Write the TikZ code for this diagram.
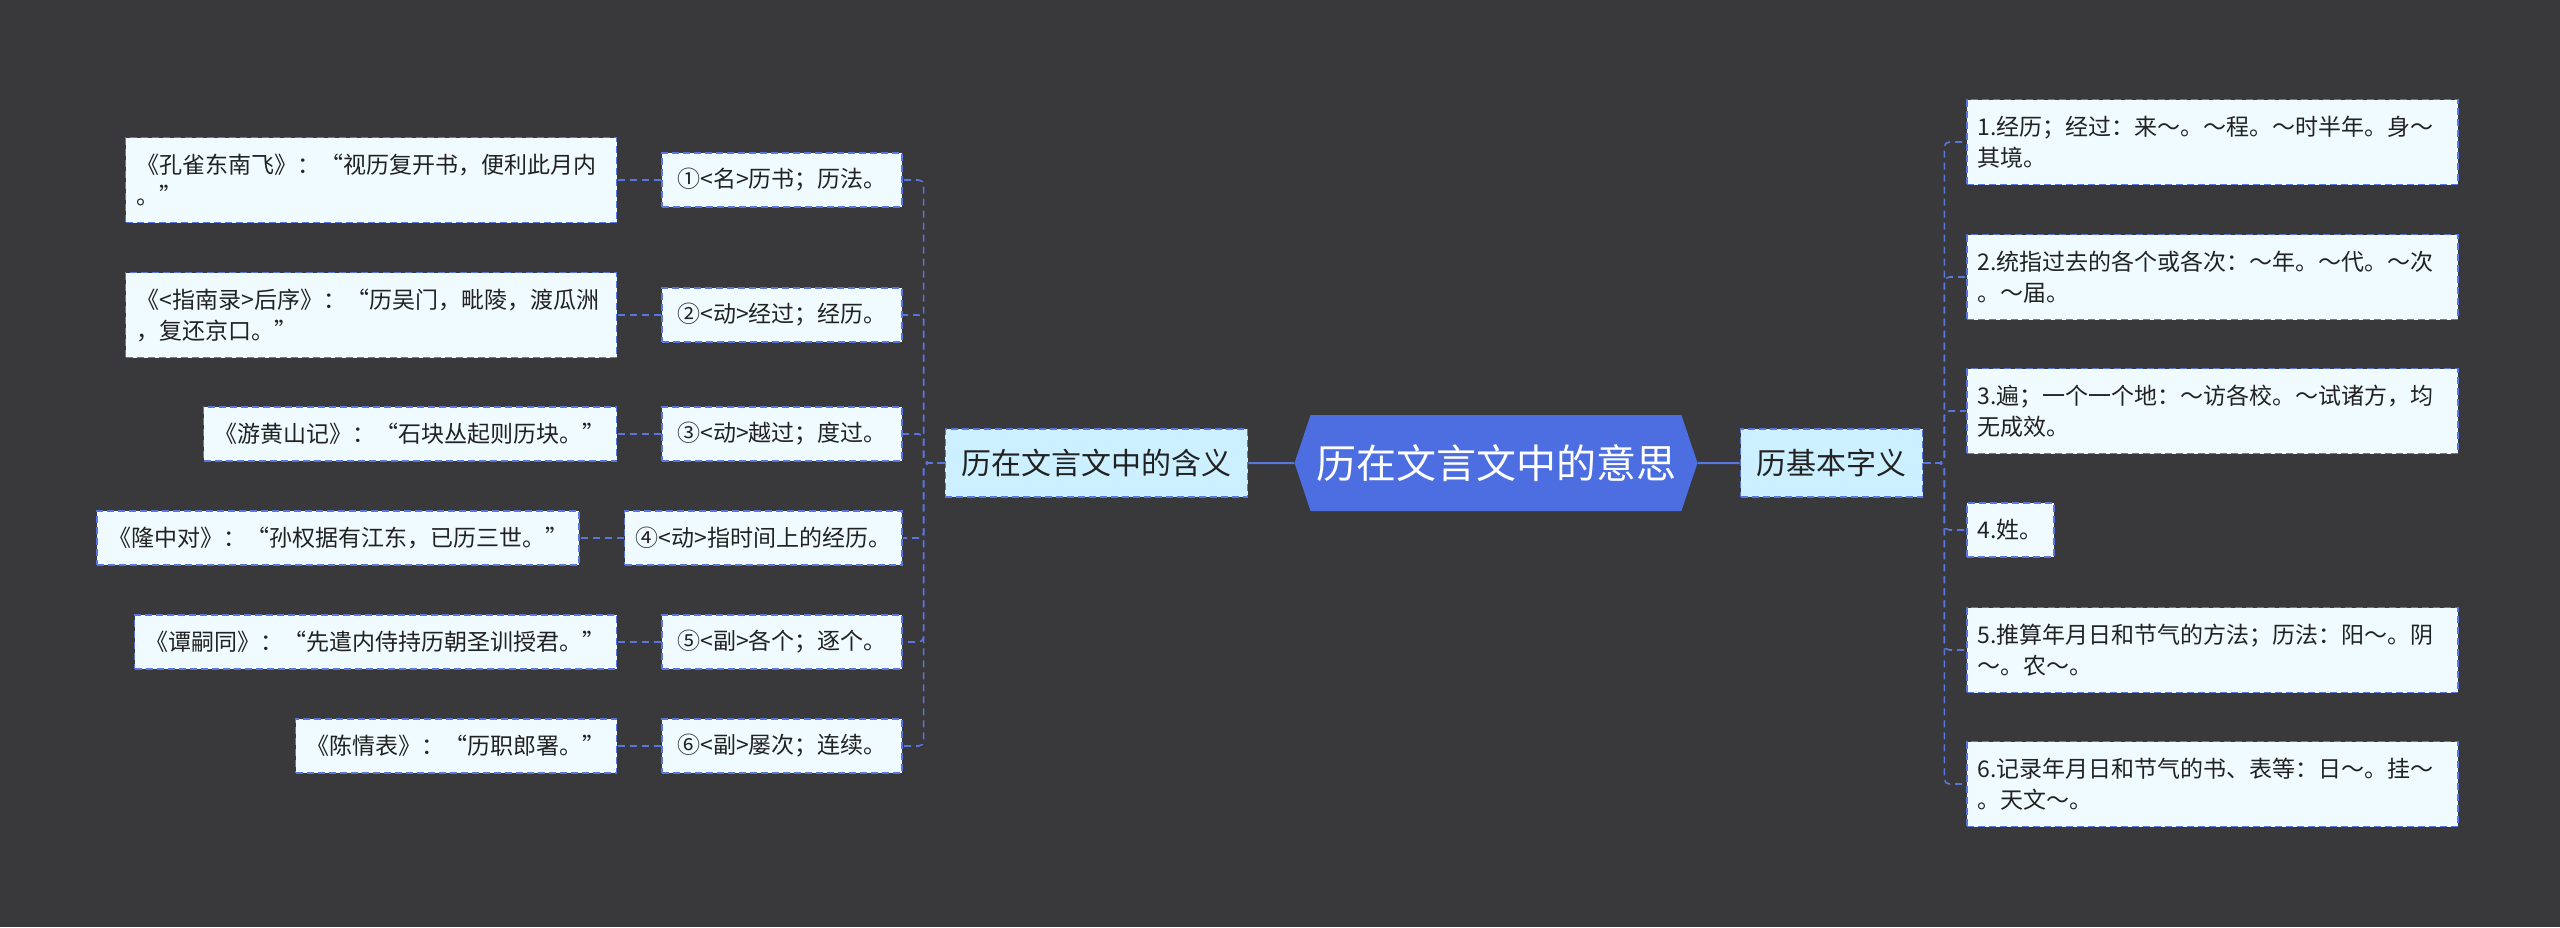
\documentclass[tikz,border=0pt]{standalone}
\usepackage{fontspec}
\setmainfont{Noto Sans CJK SC}
\usetikzlibrary{positioning, shapes.symbols}

\definecolor{bgdark}{RGB}{57,56,58}
\definecolor{mapblue}{RGB}{76,110,224}
\definecolor{linkblue}{RGB}{88,118,222}
\definecolor{hubfill}{RGB}{204,240,255}
\definecolor{leaffill}{RGB}{240,251,255}
\definecolor{inktext}{RGB}{34,34,34}

\begin{document}
\begin{tikzpicture}[x=1pt, y=-1pt,
  leaf/.style={draw=linkblue, line width=1.6pt, dash pattern=on 7pt off 4pt,
               fill=leaffill, text=inktext, font=\fontsize{23}{31}\selectfont,
               inner xsep=11pt, inner ysep=4pt, minimum height=54pt},
  sense/.style={leaf, minimum width=240pt},
  wide/.style={leaf, text width=469pt, align=left, minimum height=85pt},
  hub/.style={leaf, fill=hubfill, font=\fontsize{30}{36}\selectfont,
              inner xsep=16pt, minimum height=68pt},
  root/.style={signal, signal to=west and east, signal pointer angle=143,
               fill=mapblue, text=white, font=\fontsize{40}{48}\selectfont,
               minimum height=96pt, minimum width=403pt, inner xsep=0pt},
  conn/.style={draw=linkblue, line width=1.6pt, dash pattern=on 7pt off 5pt,
               rounded corners=5pt},
  trunk/.style={draw=linkblue, line width=2pt}]
  \useasboundingbox (0,0) rectangle (2560,927);
  \fill[bgdark] (0,0) rectangle (2560,927);
  % centre and the two hubs
  \node[root] (root) at (1496,463) {历在文言文中的意思};
  \node[hub, left=46pt of root] (lhub) {历在文言文中的含义};
  \node[hub, right=42pt of root] (rhub) {历基本字义};
  % senses (left column)
  \node[sense, anchor=east] (s1) at (903,180) {①<名>历书；历法。};
  \node[sense, anchor=east] (s2) at (903,315) {②<动>经过；经历。};
  \node[sense, anchor=east] (s3) at (903,434) {③<动>越过；度过。};
  \node[sense, anchor=east] (s4) at (903,538) {④<动>指时间上的经历。};
  \node[sense, anchor=east] (s5) at (903,642) {⑤<副>各个；逐个。};
  \node[sense, anchor=east] (s6) at (903,746) {⑥<副>屡次；连续。};
  % examples (far left)
  \node[wide, left=44pt of s1] (e1) {《孔雀东南飞》：“视历复开书，便利此月内\\。”};
  \node[wide, left=44pt of s2] (e2) {《<指南录>后序》：“历吴门，毗陵，渡瓜洲\\，复还京口。”};
  \node[leaf, left=44pt of s3] (e3) {《游黄山记》：“石块丛起则历块。”};
  \node[leaf, left=44pt of s4] (e4) {《隆中对》：“孙权据有江东，已历三世。”};
  \node[leaf, left=44pt of s5] (e5) {《谭嗣同》：“先遣内侍持历朝圣训授君。”};
  \node[leaf, left=44pt of s6] (e6) {《陈情表》：“历职郎署。”};
  % basic meanings (right column)
  \node[wide, anchor=west] (r1) at (1966,142) {1.经历；经过：来～。～程。～时半年。身～\\其境。};
  \node[wide, anchor=west] (r2) at (1966,277) {2.统指过去的各个或各次：～年。～代。～次\\。～届。};
  \node[wide, anchor=west] (r3) at (1966,411) {3.遍；一个一个地：～访各校。～试诸方，均\\无成效。};
  \node[leaf, anchor=west] (r4) at (1966,530) {4.姓。};
  \node[wide, anchor=west] (r5) at (1966,650) {5.推算年月日和节气的方法；历法：阳～。阴\\～。农～。};
  \node[wide, anchor=west] (r6) at (1966,784) {6.记录年月日和节气的书、表等：日～。挂～\\。天文～。};
  % edges
  \draw[trunk] (lhub) -- (root);
  \draw[trunk] (root) -- (rhub);
  \foreach \s in {s1,s2,s3,s4,s5,s6}
    \draw[conn] (lhub.west) -- ++(-21,0) |- (\s.east);
  \foreach \s/\e in {s1/e1,s2/e2,s3/e3,s4/e4,s5/e5,s6/e6}
    \draw[conn] (\s.west) -- (\e.east);
  \foreach \r in {r1,r2,r3,r4,r5,r6}
    \draw[conn] (rhub.east) -- ++(21,0) |- (\r.west);
\end{tikzpicture}
\end{document}
